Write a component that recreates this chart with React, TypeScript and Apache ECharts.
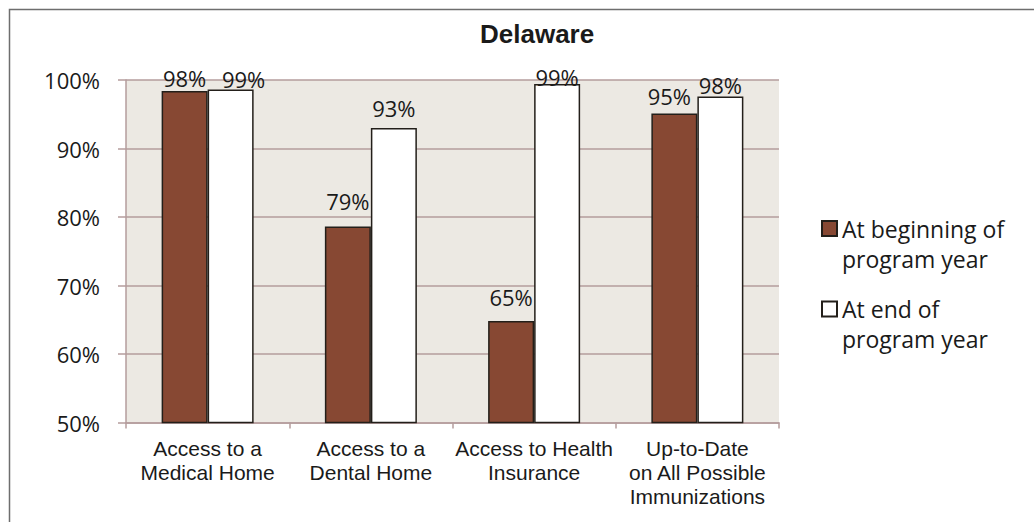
import React, { useEffect, useRef } from "react";
import * as echarts from "echarts";

const title = "Delaware";
const categories = [
  "Access to a\nMedical Home",
  "Access to a\nDental Home",
  "Access to Health\nInsurance",
  "Up-to-Date\non All Possible\nImmunizations",
];
const seriesNames = ["At beginning of\nprogram year", "At end of\nprogram year"];
const beginValues = [98.4, 78.6, 64.8, 95.1];
const endValues = [98.6, 93.0, 99.4, 97.6];
const yMin = 50;
const yMax = 100;
const yInterval = 10;

// label nudges (style only): distance above bar and horizontal shift, per point
const beginLabelLift = [1.5, 15, 13.5, 7];
const endLabelLift = [0, 9, -3.5, 0];
const beginLabelShiftX = [0, 0, 0, -5];
const endLabelShiftX = [13, 0, 0, 0];

const BROWN = "#874833";
const GRID = "#B49C9C";
const TEXT = "#1a1a1a";
const BODY_FONT = "'Open Sans', 'Noto Sans', sans-serif";
const AXIS_FONT = "'Liberation Sans', Arial, sans-serif";

export default function App() {
  const ref = useRef<HTMLDivElement>(null);
  useEffect(() => {
    if (!ref.current) return;
    const chart = echarts.init(ref.current, null, { renderer: "svg" });
    const labelCfg = {
      show: true,
      position: "top",
      distance: 1,
      color: TEXT,
      fontFamily: BODY_FONT,
      fontSize: 22,
      formatter: (p: any) => `${Math.round(p.value)}%`,
    };
    const withLabels = (vals: number[], lift: number[], shift: number[]) =>
      vals.map((v, i) => ({
        value: v,
        label: { distance: lift[i], offset: [shift[i], 0] },
      }));
    const legendText = {
      fontFamily: BODY_FONT,
      fontSize: 23,
      lineHeight: 30,
      color: TEXT,
    };
    const legendBase = {
      left: 821,
      padding: 0,
      orient: "vertical",
      icon: "rect",
      itemWidth: 15,
      itemHeight: 15,
      textStyle: legendText,
      formatter: (name: string) => "\n" + name,
    };
    chart.setOption({
      animation: false,
      backgroundColor: "#ffffff",
      title: {
        text: title,
        left: 480,
        top: 21,
        padding: 0,
        textStyle: {
          fontFamily: AXIS_FONT,
          fontWeight: "bold",
          fontSize: 26,
          color: TEXT,
        },
      },
      graphic: [
        {
          type: "rect",
          shape: { x: 9.5, y: 9.5, width: 1100, height: 600 },
          style: { fill: "none", stroke: "#6e6e6e", lineWidth: 1.5 },
          silent: true,
        },
      ],
      legend: [
        { ...legendBase, data: [seriesNames[0]], top: 183.5 },
        { ...legendBase, data: [seriesNames[1]], top: 264 },
      ],
      grid: {
        left: 126,
        right: 255,
        top: 80,
        bottom: 99.5,
        show: true,
        backgroundColor: "#ECE9E3",
        borderWidth: 0,
        outerBoundsMode: "none",
      },
      xAxis: {
        type: "category",
        data: categories,
        axisLine: { show: true, lineStyle: { color: GRID, width: 1.5 } },
        axisTick: { show: true, length: 6, lineStyle: { color: GRID, width: 1.5 } },
        axisLabel: {
          interval: 0,
          margin: 14,
          color: TEXT,
          fontFamily: AXIS_FONT,
          fontSize: 21,
          lineHeight: 24,
        },
        splitLine: { show: false },
      },
      yAxis: {
        type: "value",
        min: yMin,
        max: yMax,
        interval: yInterval,
        axisLine: { show: true, lineStyle: { color: GRID, width: 1.5 } },
        axisTick: { show: true, length: 8, inside: false, lineStyle: { color: GRID, width: 1.5 } },
        axisLabel: {
          margin: 26,
          color: TEXT,
          fontFamily: BODY_FONT,
          fontSize: 22,
          formatter: (v: number) => `${v}%`,
        },
        splitLine: { show: true, lineStyle: { color: GRID, width: 1.5 } },
      },
      series: [
        {
          name: seriesNames[0],
          type: "bar",
          data: withLabels(beginValues, beginLabelLift, beginLabelShiftX),
          barWidth: 46,
          barGap: "0%",
          itemStyle: { color: BROWN, borderColor: "#231f1a", borderWidth: 1.5 },
          label: labelCfg,
        },
        {
          name: seriesNames[1],
          type: "bar",
          data: withLabels(endValues, endLabelLift, endLabelShiftX),
          barWidth: 46,
          barGap: "0%",
          itemStyle: { color: "#ffffff", borderColor: "#231f1a", borderWidth: 1.5 },
          label: labelCfg,
        },
      ],
    });
    return () => chart.dispose();
  }, []);
  return (
    <div
      ref={ref}
      style={{ position: "absolute", left: 0, top: 0, width: 1034, height: 522 }}
    />
  );
}
